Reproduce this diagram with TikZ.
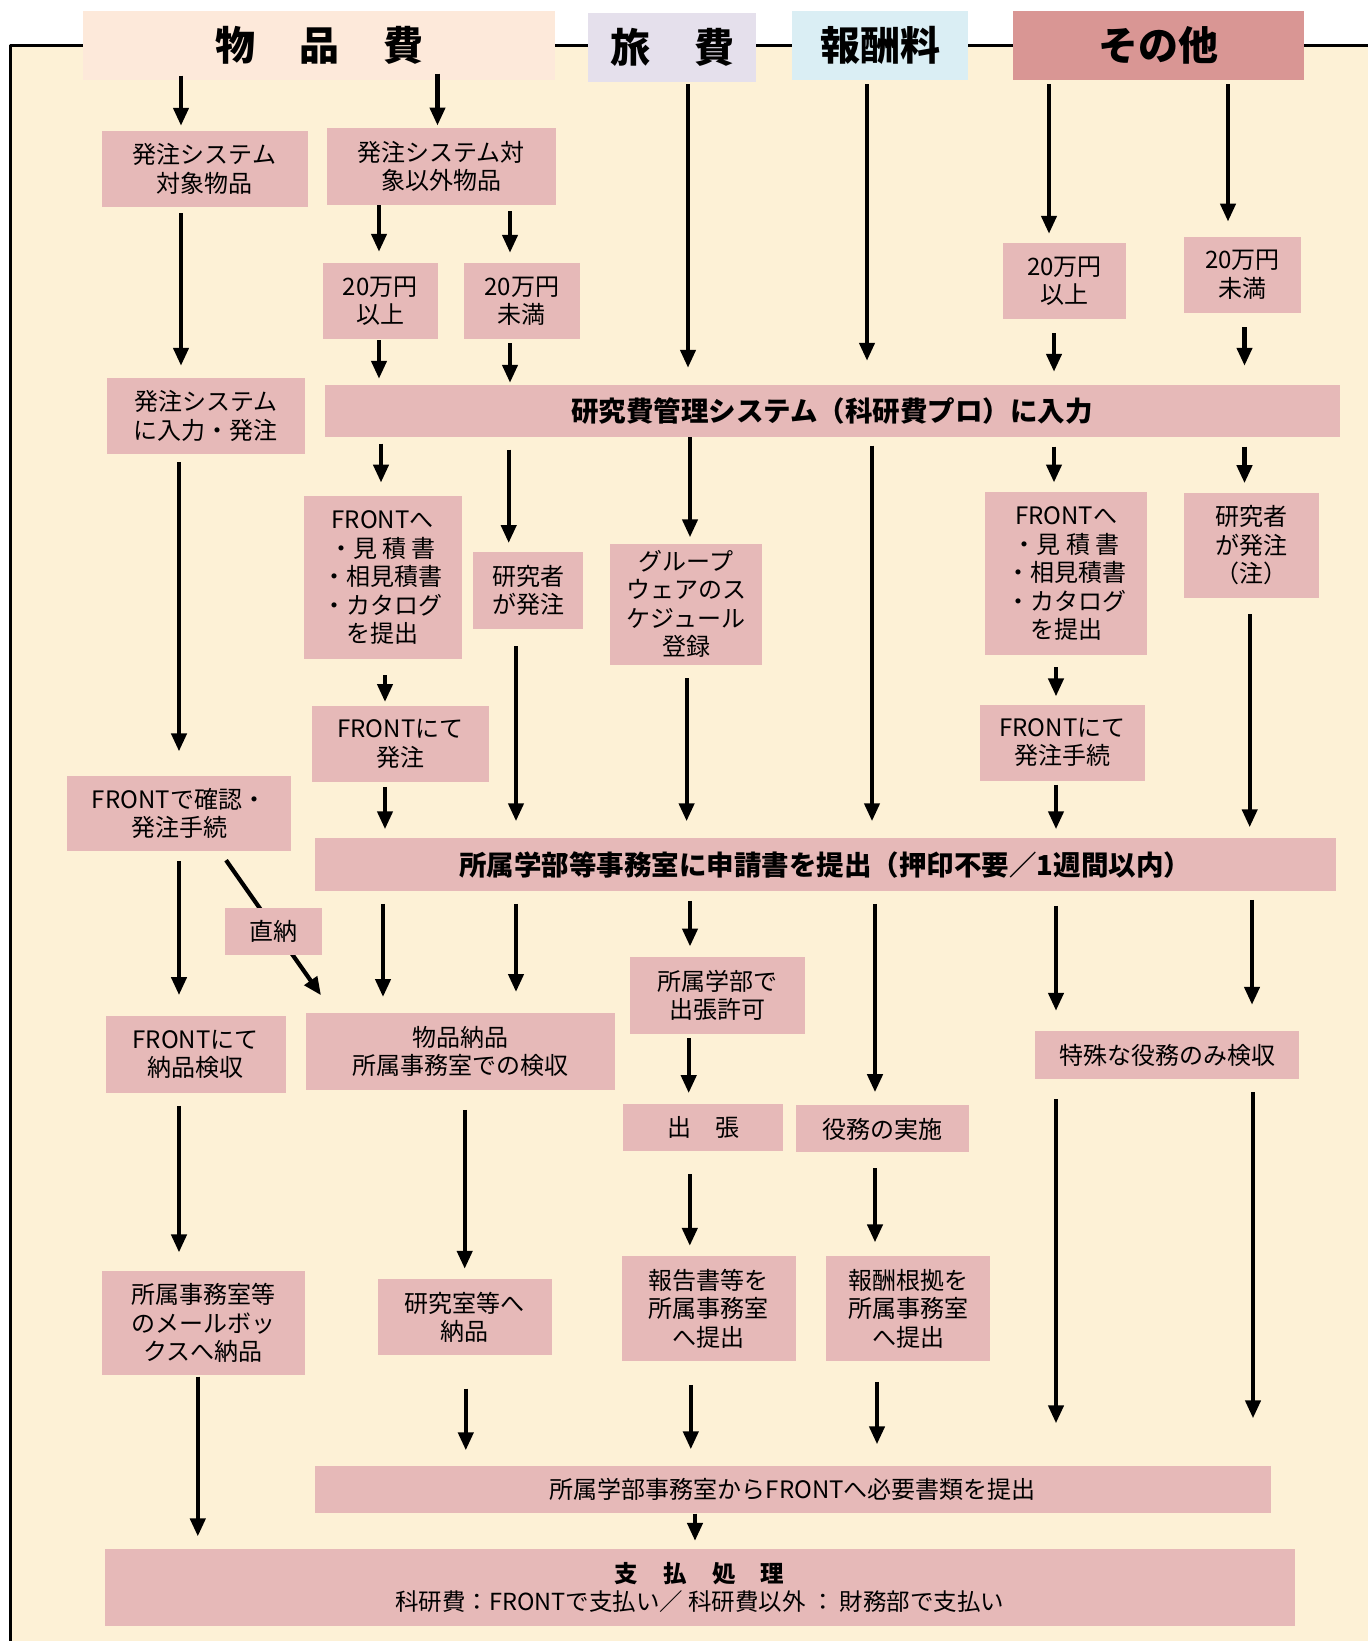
\documentclass[tikz,border=0pt]{standalone}
\usepackage{fontspec}
\setmainfont{Noto Sans CJK JP}
\usetikzlibrary{arrows.meta}

\definecolor{paper}{HTML}{FDF1D6}
\definecolor{boxpink}{HTML}{E6B9B8}
\definecolor{hdpeach}{HTML}{FDE9DA}
\definecolor{hdlilac}{HTML}{E5E0EC}
\definecolor{hdsky}{HTML}{DAEEF4}
\definecolor{hdrose}{HTML}{D99694}

\newcommand{\boxfont}{\fontsize{24}{28.5}\selectfont}
\newcommand{\keyfont}{\fontsize{27.5}{30}\selectfont\bfseries}
\newcommand{\headfont}{\fontsize{40}{44}\selectfont\bfseries}

\begin{document}
\begin{tikzpicture}[x=1pt, y=-1pt,
    box/.style={fill=boxpink, inner sep=0pt, align=center, font=\boxfont},
    keybox/.style={box, font=\keyfont},
    head/.style={inner sep=0pt, minimum height=69pt, font=\headfont},
    wh/.style 2 args={minimum width=#1pt, minimum height=#2pt},
    arr/.style={line width=4.2pt, -{Triangle[width=15pt,length=18pt]}},
    ends/.style 2 args={shorten <=#1pt, shorten >=#2pt}]
    \useasboundingbox (0,0) rectangle (1368,1641);
    \fill[white] (0,0) rectangle (1368,1641);
    \fill[paper] (10,45) rectangle (1368,1641);
    \draw[line width=3pt, line join=round] (10,1641) -- (10,45) -- (1368,45);

    % Column headers
    \node[head, fill=hdpeach, minimum width=472pt] (hgoods) at (319,45) {物\hspace{1.1em}品\hspace{1.1em}費};
    \node[head, fill=hdlilac, minimum width=168pt] (htravel) at (672,47) {旅\hspace{1.1em}費};
    \node[head, fill=hdsky, minimum width=176pt] (hfee) at (880,45) {報酬料};
    \node[head, fill=hdrose, minimum width=291pt] (hother) at (1158,45) {その他};

    % Goods column
    \node[box, wh={206}{76}] (a1) at (204.6,169) {発注システム\\対象物品};
    \node[box, wh={229}{77.5}] (a2) at (441,166.5) {発注システム対\\象以外物品};
    \node[box, wh={115}{76}] (b1) at (380,301) {20万円\\以上};
    \node[box, wh={116}{76}] (b2) at (521.8,301) {20万円\\未満};
    \node[box, wh={198}{76}] (c1) at (205.7,416) {発注システム\\に入力・発注};
    \node[box, wh={158}{163}] (d1) at (382.6,577.8) {FRONTへ\\・見 積 書\\・相見積書\\・カタログ\\を提出};
    \node[box, wh={110}{77}] (d2) at (528,590.3) {研究者\\が発注};
    \node[box, wh={177}{76}] (e1) at (400.4,743.7) {FRONTにて\\発注};
    \node[box, wh={224}{75.4}] (c2) at (179,813.3) {FRONTで確認・\\発注手続};
    \node[box, wh={180}{76.4}] (f1) at (195.7,1054.5) {FRONTにて\\納品検収};
    \node[box, wh={309}{76.4}] (f2) at (460,1051.4) {物品納品\\所属事務室での検収};
    \node[box, wh={203}{104.7}] (g1) at (203,1323) {所属事務室等\\のメールボッ\\クスへ納品};
    \node[box, wh={173.7}{76.4}] (g2) at (464.7,1317.2) {研究室等へ\\納品};

    % Travel and fee columns
    \node[box, wh={152}{121}] (t1) at (686,604) {グループ\\ウェアのス\\ケジュール\\登録};
    \node[box, wh={175}{77.4}] (t2) at (717.6,995.4) {所属学部で\\出張許可};
    \node[box, wh={160}{47}] (t3) at (703,1127.8) {出　張};
    \node[box, wh={173.8}{104.7}] (t4) at (708.6,1308.4) {報告書等を\\所属事務室\\へ提出};
    \node[box, wh={173.7}{47}] (r1) at (882.4,1128.9) {役務の実施};
    \node[box, wh={164.3}{104.7}] (r2) at (908,1308.4) {報酬根拠を\\所属事務室\\へ提出};

    % Other column
    \node[box, wh={123.5}{76}] (o1) at (1064.5,281) {20万円\\以上};
    \node[box, wh={117}{76}] (o2) at (1242.4,274.8) {20万円\\未満};
    \node[box, wh={162}{163}] (o3) at (1066,573.6) {FRONTへ\\・見 積 書\\・相見積書\\・カタログ\\を提出};
    \node[box, wh={135}{105}] (o4) at (1251.5,545.3) {研究者\\が発注\\（注）};
    \node[box, wh={165}{76}] (o5) at (1062.4,742.6) {FRONTにて\\発注手続};
    \node[box, wh={264}{48}] (o6) at (1167,1055) {特殊な役務のみ検収};

    % Shared steps
    \node[keybox, wh={1015}{52}] (k) at (832,411) {研究費管理システム（科研費プロ）に入力};
    \node[keybox, wh={1020.6}{52.3}] (s) at (825.3,864.6) {所属学部等事務室に申請書を提出（押印不要／1週間以内）};
    \node[box, wh={955.7}{47}] (h) at (792.9,1489) {所属学部事務室からFRONTへ必要書類を提出};
    \node[box, wh={1190}{76.4}, font=\fontsize{23.5}{28}\selectfont] (p) at (699.7,1587.3)
        {{\bfseries 支\hspace{1.07em}払\hspace{1.07em}処\hspace{1.07em}理}\\科研費：FRONTで支払い／ 科研費以外 ： 財務部で支払い};

    % Arrows from the headers
    \draw[arr, ends={-4}{5}] (hgoods.south -| 181,0) -- (a1.north -| 181,0);
    \draw[arr, ends={-6}{2}] (hgoods.south -| 437.5,0) -- (a2.north -| 437.5,0);
    \draw[arr, ends={2.5}{17}] (htravel.south -| 688,0) -- (k.north -| 688,0);
    \draw[arr, ends={4.5}{24}] (hfee.south -| 867,0) -- (k.north -| 867,0);
    \draw[arr, ends={4.5}{9}] (hother.south -| 1049,0) -- (o1.north -| 1049,0);
    \draw[arr, ends={4.5}{15}] (hother.south -| 1228,0) -- (o2.north -| 1228,0);

    % Arrows into the system step
    \draw[arr, ends={6}{12}] (a1.south -| 181,0) -- (c1.north -| 181,0);
    \draw[arr, ends={0}{11}] (a2.south -| 379,0) -- (b1.north -| 379,0);
    \draw[arr, ends={6}{10}] (a2.south -| 510,0) -- (b2.north -| 510,0);
    \draw[arr, ends={1}{6}] (b1.south -| 379,0) -- (k.north -| 379,0);
    \draw[arr, ends={4}{2}] (b2.south -| 510,0) -- (k.north -| 510,0);
    \draw[arr, ends={14}{13}] (o1.south -| 1054,0) -- (k.north -| 1054,0);
    \draw[arr, ends={14}{19}] (o2.south -| 1244.5,0) -- (k.north -| 1244.5,0);

    % Arrows below the system step
    \draw[arr, ends={8}{24}] (c1.south -| 179,0) -- (c2.north -| 179,0);
    \draw[arr, ends={6.5}{13.5}] (k.south -| 381,0) -- (d1.north -| 381,0);
    \draw[arr, ends={12.5}{8.6}] (k.south -| 508.7,0) -- (d2.north -| 508.7,0);
    \draw[arr, ends={0}{6}] (k.south -| 690,0) -- (t1.north -| 690,0);
    \draw[arr, ends={8.5}{17}] (k.south -| 872,0) -- (s.north -| 872,0);
    \draw[arr, ends={9.5}{9.4}] (k.south -| 1054,0) -- (o3.north -| 1054,0);
    \draw[arr, ends={9.5}{9.4}] (k.south -| 1244.5,0) -- (o4.north -| 1244.5,0);
    \draw[arr, ends={15.6}{3.5}] (d1.south -| 385,0) -- (e1.north -| 385,0);
    \draw[arr, ends={17}{17}] (d2.south -| 516,0) -- (s.north -| 516,0);
    \draw[arr, ends={13.4}{17}] (t1.south -| 686.6,0) -- (s.north -| 686.6,0);
    \draw[arr, ends={12}{8}] (o3.south -| 1056,0) -- (o5.north -| 1056,0);
    \draw[arr, ends={16}{11}] (o4.south -| 1249.7,0) -- (s.north -| 1249.7,0);
    \draw[arr, ends={5}{9}] (e1.south -| 385,0) -- (s.north -| 385,0);
    \draw[arr, ends={4}{9}] (o5.south -| 1056,0) -- (s.north -| 1056,0);

    % Arrows below the application step
    \draw[arr, ends={10}{21}] (c2.south -| 179,0) -- (f1.north -| 179,0);
    \draw[arr, ends={11}{21.7}] (c2.south -| 219.7,0) -- (f2.north -| 333.5,0);
    \draw[arr, ends={13}{16}] (s.south -| 383,0) -- (f2.north -| 383,0);
    \draw[arr, ends={13}{21}] (s.south -| 516,0) -- (f2.north -| 516,0);
    \draw[arr, ends={10}{10}] (s.south -| 690,0) -- (t2.north -| 690,0);
    \draw[arr, ends={13}{13}] (s.south -| 875,0) -- (r1.north -| 875,0);
    \draw[arr, ends={15}{20}] (s.south -| 1056,0) -- (o6.north -| 1056,0);
    \draw[arr, ends={9}{26}] (s.south -| 1252,0) -- (o6.north -| 1252,0);
    \draw[arr, ends={4}{11}] (t2.south -| 688.7,0) -- (t3.north -| 688.7,0);
    \draw[arr, ends={13}{18}] (f1.south -| 179,0) -- (g1.north -| 179,0);
    \draw[arr, ends={20}{10}] (f2.south -| 464.7,0) -- (g2.north -| 464.7,0);
    \draw[arr, ends={22.6}{10}] (t3.south -| 689.8,0) -- (t4.north -| 689.8,0);
    \draw[arr, ends={15.5}{13.5}] (r1.south -| 875,0) -- (r2.north -| 875,0);

    % Arrows to the last steps
    \draw[arr, ends={20}{42}] (o6.south -| 1056,0) -- (h.north -| 1056,0);
    \draw[arr, ends={13}{47}] (o6.south -| 1253,0) -- (h.north -| 1253,0);
    \draw[arr, ends={33}{15}] (g2.south -| 465.8,0) -- (h.north -| 465.8,0);
    \draw[arr, ends={24}{16}] (t4.south -| 690.8,0) -- (h.north -| 690.8,0);
    \draw[arr, ends={21}{21}] (r2.south -| 877,0) -- (h.north -| 877,0);
    \draw[arr, ends={1}{12.5}] (g1.south -| 197.8,0) -- (p.north -| 197.8,0);
    \draw[arr, ends={1}{8}] (h.south -| 695,0) -- (p.north -| 695,0);

    % Label on the direct-delivery arrow
    \node[box, wh={97.4}{47}] (direct) at (273.7,931) {直納};
\end{tikzpicture}
\end{document}
